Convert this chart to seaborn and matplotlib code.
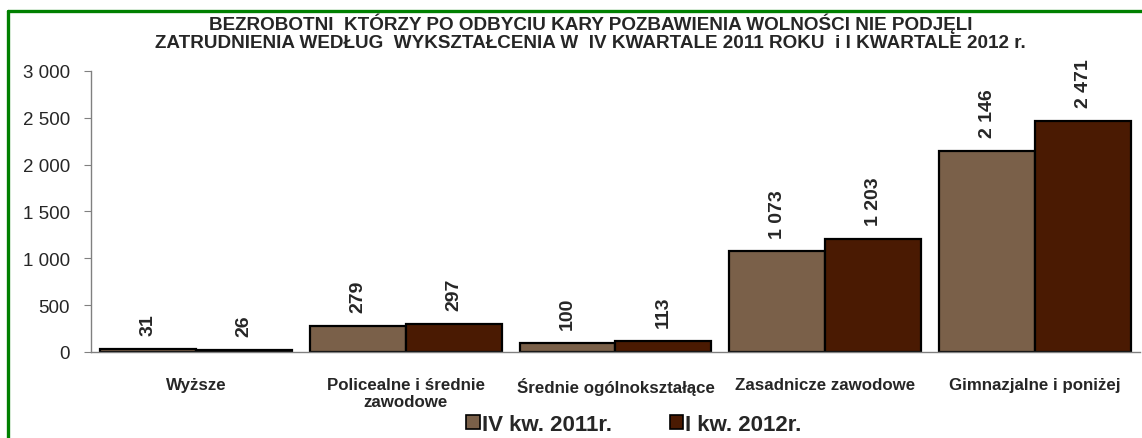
import pandas as pd
import matplotlib.pyplot as plt
from matplotlib.lines import Line2D
import seaborn as sb

# --- data ---
categories = [
    "Wyższe",
    "Policealne i średnie\nzawodowe",
    "Średnie ogólnokształące",
    "Zasadnicze zawodowe",
    "Gimnazjalne i poniżej",
]
series_names = ["IV kw. 2011r.", "I kw. 2012r."]
values_2011 = [31, 279, 100, 1073, 2146]
values_2012 = [26, 297, 113, 1203, 2471]
y_ticks = [0, 500, 1000, 1500, 2000, 2500, 3000]

title = ("BEZROBOTNI  KTÓRZY PO ODBYCIU KARY POZBAWIENIA WOLNOŚCI NIE PODJĘLI\n"
         "ZATRUDNIENIA WEDŁUG  WYKSZTAŁCENIA W  IV KWARTALE 2011 ROKU  i I KWARTALE 2012 r.")

colors = ["#7A6049", "#4A1A02"]


def fmt(v):
    return f"{v:,}".replace(",", " ")


df = pd.DataFrame({
    "Kategoria": categories * 2,
    "Okres": [series_names[0]] * 5 + [series_names[1]] * 5,
    "Liczba": values_2011 + values_2012,
})

sb.set_style("white")
plt.rcParams["font.family"] = ["Liberation Sans", "DejaVu Sans"]

fig = plt.figure(figsize=(11.42, 4.39), dpi=100)
ax = fig.add_axes([0.0797, 0.196, 0.9185, 0.640])

sb.barplot(
    data=df, x="Kategoria", y="Liczba", hue="Okres",
    palette=colors, saturation=1, width=0.915, edgecolor="black", linewidth=1.6,
    ax=ax, legend=False,
)

# value labels, rotated
for container, vals in zip(ax.containers, [values_2011, values_2012]):
    ax.bar_label(container, labels=[fmt(v) for v in vals], rotation=90,
                 padding=10, fontsize=14, fontweight="bold")

ax.set_ylim(0, 3000)
ax.set_yticks(y_ticks)
ax.set_yticklabels([fmt(t) for t in y_ticks], fontsize=13.5)
ax.set_xlim(-0.5, 4.5)
ax.set_xticks(range(5))
ax.set_xticklabels(categories, fontsize=12.2, fontweight="bold", linespacing=1.15)
ax.tick_params(axis="x", which="major", length=0, pad=18)
ax.set_xticks([i - 0.5 for i in range(6)], minor=True)
ax.tick_params(axis="x", which="minor", length=5, color="#808080", direction="out")
ax.tick_params(axis="y", length=5, color="#808080", direction="out", left=True, pad=10)
ax.set_xlabel("")
ax.set_ylabel("")

for s in ["top", "right"]:
    ax.spines[s].set_visible(False)
for s in ["left", "bottom"]:
    ax.spines[s].set_color("#808080")
    ax.spines[s].set_linewidth(1)

fig.text(0.517, 0.925, title, ha="center", va="center",
         fontsize=13.6, fontweight="bold", linespacing=1.05)

handles = [plt.Rectangle((0, 0), 1, 1, facecolor=c, edgecolor="black", linewidth=1.2)
           for c in colors]
fig.legend(handles, series_names, loc="center", bbox_to_anchor=(0.555, 0.031),
           ncol=2, frameon=False, handlelength=0.6, handleheight=0.6,
           handletextpad=0.1, columnspacing=2.6,
           prop={"size": 16, "weight": "bold"})

# green frame (top and left visible in the reference)
fig.add_artist(Line2D([7.5 / 1142, 1.0], [1 - 12 / 439] * 2,
                      transform=fig.transFigure, color="#008000", lw=2.4))
fig.add_artist(Line2D([7.5 / 1142] * 2, [0, 1 - 12 / 439],
                      transform=fig.transFigure, color="#008000", lw=2.4))

fig.savefig("out.png", dpi=100)
